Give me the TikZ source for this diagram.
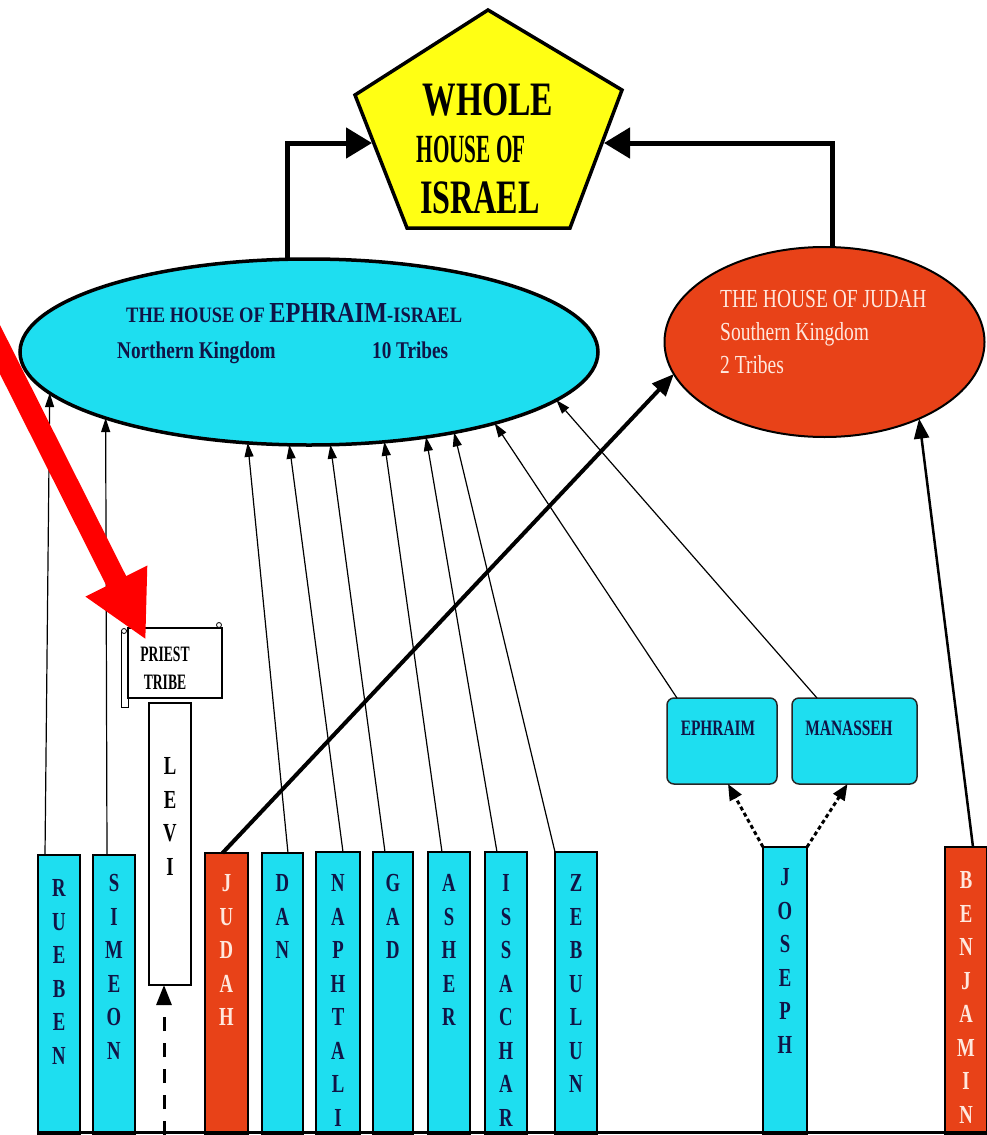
\documentclass[tikz,border=0pt]{standalone}
\usepackage{fontspec}
\setmainfont{Liberation Serif}
\usepackage{graphicx}
\usetikzlibrary{arrows.meta,calc,shapes.geometric}

\definecolor{cyanfill}{RGB}{30,222,240}
\definecolor{redfill}{RGB}{232,66,24}
\definecolor{navy}{RGB}{16,20,70}
\definecolor{pinkw}{RGB}{255,232,222}
\definecolor{yel}{RGB}{255,255,20}

\newcommand{\sx}[2]{\scalebox{#1}[1]{#2}}
\newcommand{\fs}[1]{\fontsize{#1}{#1}\selectfont}

\tikzset{
  bar/.style={draw=black, line width=2.5, inner sep=0pt, outer sep=0pt},
  barletter/.style={inner sep=0pt, anchor=base, font=\fs{26}\bfseries},
  txt/.style={inner sep=0pt},
  thinarrow/.style={line width=1.2, -{Triangle[length=14pt,width=9pt]}},
  bigarrow/.style={line width=5, -{Triangle[length=26pt,width=30pt]}},
  judarrow/.style={line width=4, -{Triangle[length=22pt,width=18pt]}},
  benarrow/.style={line width=2.5, -{Triangle[length=20pt,width=15pt]}},
  dotarrow/.style={line width=3, dash pattern=on 4pt off 3pt, -{Triangle[length=16pt,width=13pt]}},
  leviarrow/.style={line width=3, dash pattern=on 14pt off 12pt, -{Triangle[length=20pt,width=15pt]}},
  housebox/.style={draw=black!85, fill=cyanfill, rounded corners=7pt, line width=1.5, inner sep=0pt, outer sep=0pt, anchor=north west},
}

% name, x1, x2, top, letters, fill, text colour, first-baseline offset
\newcommand{\tribebar}[8]{%
  \node[bar, fill=#6, minimum width={#3-#2}, minimum height={1135-#4}, anchor=north west] (#1) at (#2,#4) {};
  \foreach \ltr [count=\i from 0] in {#5} {
    \node[barletter, text=#7] (#1-l\i) at ($(#1.north)+(0,#8+\i*33.5)$) {\sx{0.72}{\ltr}};
  }
}

\begin{document}
\begin{tikzpicture}[x=1pt,y=-1pt]
\useasboundingbox (0,0) rectangle (987,1135);
\fill[white] (0,0) rectangle (987,1135);
\clip (0,0) rectangle (987,1135);

% ---------- pentagon ----------
\draw[line width=3.5, fill=yel] (488,10) -- (622,90) -- (570,228) -- (407,228) -- (355,95) -- cycle;
\node[txt, anchor=base, font=\bfseries] (whole) at (488,115) {\sx{0.70}{\fs{48}WHOLE}};
\node[txt, anchor=base, font=\bfseries] (houseof) at (471,162) {\sx{0.53}{\fs{40}HOUSE OF}};
\node[txt, anchor=base, font=\bfseries] (israel) at (480,213) {\sx{0.67}{\fs{48}ISRAEL}};
\coordinate (pentL) at (372,143);
\coordinate (pentR) at (604,143);

% ---------- ellipses ----------
\node[ellipse, draw=black, line width=3.5, fill=cyanfill, minimum width=578, minimum height=186, inner sep=0pt, outer sep=0pt] (eh) at (309,352) {};
\node[txt, anchor=base west, text=navy, font=\bfseries] (ehtitle) at (126,322)
  {\sx{0.84}{\fs{22}THE HOUSE OF \fs{29}EPHRAIM\fs{22}-ISRAEL}};
\node[txt, anchor=base west, text=navy, font=\bfseries] (ehnorth) at (117,358) {\sx{0.8}{\fs{24}Northern Kingdom}};
\node[txt, anchor=base west, text=navy, font=\bfseries] (ehten) at (372,358) {\sx{0.8}{\fs{24}10 Tribes}};

\node[ellipse, draw=black, line width=2, fill=redfill, minimum width=320, minimum height=190, inner sep=0pt, outer sep=0pt] (jh) at (824.5,342) {};
\node[txt, anchor=base west, text=pinkw] (jhtitle) at (720,307) {\sx{0.75}{\fs{26}THE HOUSE OF JUDAH}};
\node[txt, anchor=base west, text=pinkw] (jhsouth) at (720,340) {\sx{0.75}{\fs{26}Southern Kingdom}};
\node[txt, anchor=base west, text=pinkw] (jhtwo) at (720,373) {\sx{0.75}{\fs{26}2 Tribes}};

\draw[bigarrow] ($(eh.north)+(-22,0)$) |- (pentL);
\draw[bigarrow] ($(jh.north)+(8,0)$) |- (pentR);

% ---------- tribe bars ----------
\tribebar{rueben}{38}{80}{855}{R,U,E,B,E,N}{cyanfill}{navy}{41.5}
\tribebar{simeon}{93}{135}{855}{S,I,M,E,O,N}{cyanfill}{navy}{36.5}
\tribebar{judah}{205}{248}{853}{J,U,D,A,H}{redfill}{pinkw}{38.5}
\tribebar{dan}{262}{303}{853}{D,A,N}{cyanfill}{navy}{38.5}
\tribebar{naphtali}{316}{360}{852}{N,A,P,H,T,A,L,I}{cyanfill}{navy}{39.5}
\tribebar{gad}{373}{413}{852}{G,A,D}{cyanfill}{navy}{39.5}
\tribebar{asher}{428}{470}{852}{A,S,H,E,R}{cyanfill}{navy}{39.5}
\tribebar{issachar}{485}{527}{852}{I,S,S,A,C,H,A,R}{cyanfill}{navy}{39.5}
\tribebar{zebulun}{555}{597}{852}{Z,E,B,U,L,U,N}{cyanfill}{navy}{39.5}
\tribebar{joseph}{763}{807}{847}{J,O,S,E,P,H}{cyanfill}{navy}{38.5}
\tribebar{benjamin}{945}{987}{847}{B,E,N,J,A,M,I,N}{redfill}{pinkw}{41.5}

% Levi
\node[draw=black, line width=1.2, fill=white, minimum width=42, minimum height=282, anchor=north west, inner sep=0pt, outer sep=0pt] (levi) at (149,703) {};
\foreach \ltr [count=\i from 0] in {L,E,V,I} {
  \node[barletter, text=black] (levi-l\i) at ($(levi.north)+(0,71.5+\i*33.5)$) {\sx{0.72}{\ltr}};
}
\coordinate (levibot) at (164,1135);
\draw[leviarrow] (levibot) -- ($(levi.south)+(-6,0)$);

% Priest tribe sign
\node[draw=black, line width=1, fill=white, minimum width=7, minimum height=77, anchor=north west, inner sep=0pt, outer sep=0pt] (pole) at (121,630) {};
\node[draw=black, line width=1.2, fill=white, minimum width=94, minimum height=70, anchor=north west, inner sep=0pt, outer sep=0pt] (sign) at (128,628) {};
\node[draw=black, line width=0.8, fill=white, circle, inner sep=0pt, minimum size=5] (knobL) at (124,631) {};
\node[draw=black, line width=0.8, fill=white, circle, inner sep=0pt, minimum size=5] (knobR) at (219,625) {};
\node[txt, anchor=base, font=\bfseries] (priest) at (165,661) {\sx{0.62}{\fs{22}PRIEST}};
\node[txt, anchor=base, font=\bfseries] (tribe) at (165,689) {\sx{0.62}{\fs{22}TRIBE}};

% Ephraim / Manasseh boxes
\node[housebox, minimum width=110, minimum height=86] (ebox) at (667,698) {};
\node[housebox, minimum width=125, minimum height=86] (mbox) at (792,698) {};
\node[txt, anchor=base, text=navy, font=\bfseries] (eboxtext) at (718,735.5) {\sx{0.7}{\fs{22}EPHRAIM}};
\node[txt, anchor=base, text=navy, font=\bfseries] (mboxtext) at (849,735.5) {\sx{0.7}{\fs{22}MANASSEH}};

% ---------- connectors ----------
\draw[thinarrow] ($(rueben.north west)+(7,0)$) -- (eh.189);
\draw[thinarrow] ($(simeon.north west)+(14,0)$) -- (eh.198);
\draw[thinarrow] ($(dan.north west)+(26,0)$) -- (eh.236);
\draw[thinarrow] ($(naphtali.north west)+(27,0)$) -- (eh.258);
\draw[thinarrow] ($(gad.north west)+(12,0)$) -- (eh.283.2);
\draw[thinarrow] ($(asher.north west)+(14,0)$) -- (eh.310.75);
\draw[thinarrow] ($(issachar.north west)+(12,0)$) -- (eh.324.5);
\draw[thinarrow] (zebulun.north west) -- (eh.331.6);
\draw[thinarrow] ($(ebox.north west)+(10,0)$) -- (eh.339.9);
\draw[thinarrow] ($(mbox.north west)+(25,0)$) -- (eh.349);

\draw[judarrow] ($(judah.north)+(-4,0)$) -- (jh.192.4);
\draw[benarrow] ($(benjamin.north)+(7,0)$) -- (jh.321.5);

\draw[dotarrow] (joseph.north west) -- ($(ebox.south)+(6,0)$);
\draw[dotarrow] (joseph.north east) -- ($(mbox.south)+(-7,0)$);

% baseline
\coordinate (baseL) at (38,1132);
\coordinate (baseR) at (987,1132);
\draw[line width=3] (baseL) -- (baseR);

% red pointer
\coordinate (redstart) at (-40,270);
\coordinate (redtip) at (146,640);
\draw[red, line width=22, -{Triangle[length=66pt,width=64pt]}] (redstart) -- (redtip);
\end{tikzpicture}
\end{document}
